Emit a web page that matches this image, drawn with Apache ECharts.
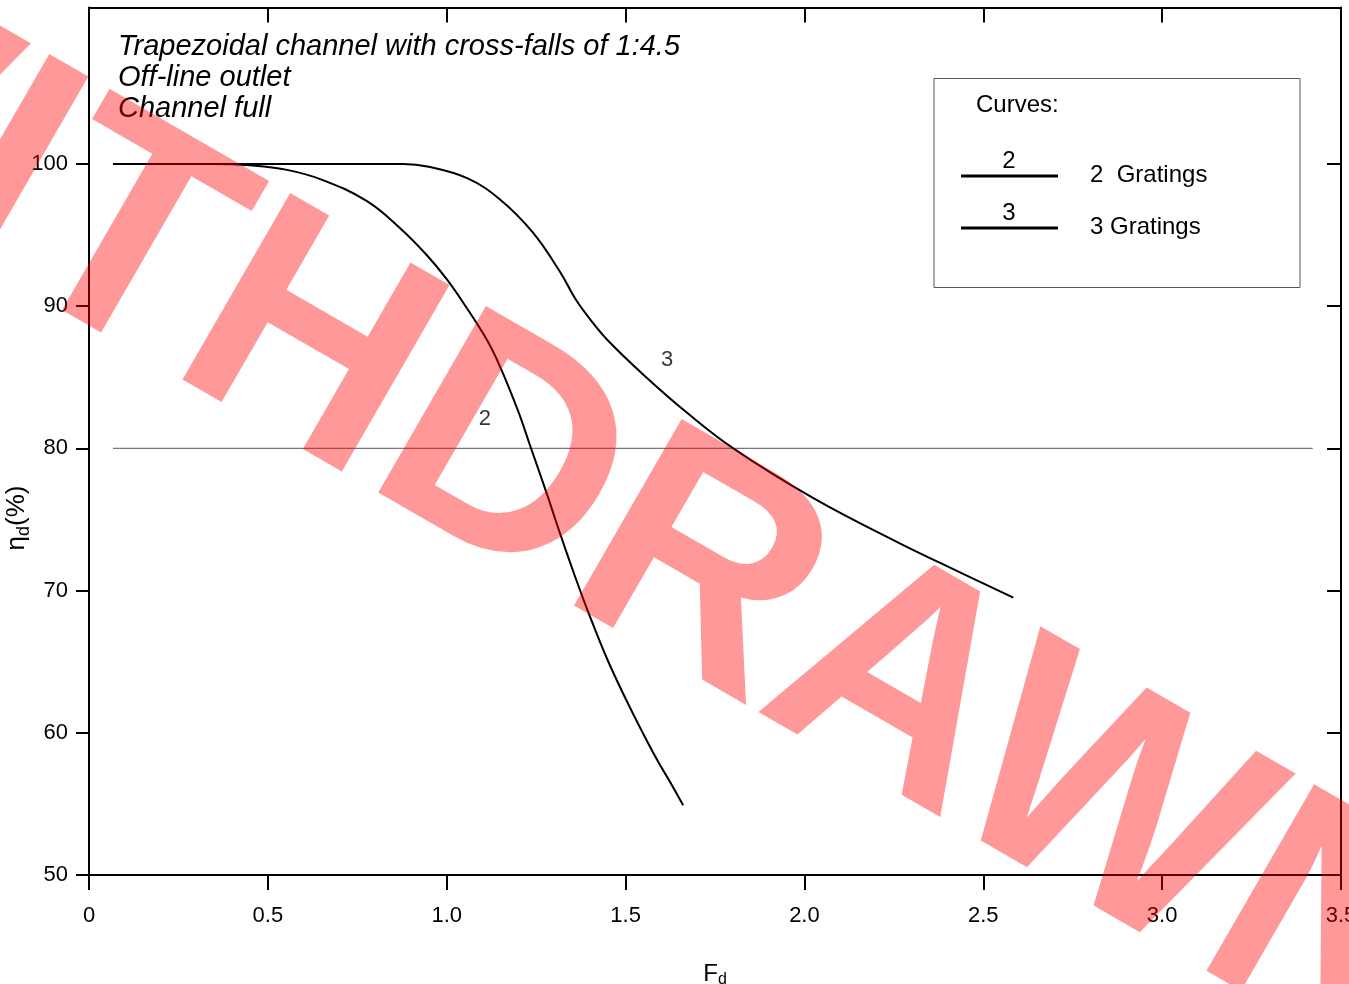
<!DOCTYPE html>
<html><head><meta charset="utf-8">
<script src="https://cdn.jsdelivr.net/npm/echarts@6/dist/echarts.min.js"></script>
<style>html,body{margin:0;padding:0;background:#fff}#c{width:1349px;height:984px}</style>
</head><body><div id="c"></div>
<script>
// ---- data ----
const curve2 = [[0.067,100],[0.2,100],[0.35,100],[0.45,99.9],[0.55,99.6],[0.65,98.9],[0.776,97.4],[0.869,95.5],[0.944,93.6],[1.0,91.9],[1.05,90.1],[1.113,87.6],[1.15,85.7],[1.2,82.6],[1.233,80.2],[1.28,76.8],[1.317,74.0],[1.36,70.9],[1.40,68.2],[1.45,65.1],[1.504,62.2],[1.55,59.9],[1.588,58.1],[1.63,56.3],[1.661,54.9]];
const curve3 = [[0.067,100],[0.5,100],[0.878,100],[0.95,99.8],[1.057,99.0],[1.149,97.5],[1.24,95.2],[1.317,92.4],[1.36,90.5],[1.40,89.1],[1.45,87.6],[1.549,85.2],[1.672,82.5],[1.801,80.0],[2.025,76.5],[2.268,73.3],[2.4,71.7],[2.584,69.5]];
const refLine = [[0.067,80],[3.421,80]];
const curveLabels = [{name:'2', value:[1.107,82.1]},{name:'3', value:[1.616,86.2]}];
const xTicks = [0,0.5,1,1.5,2,2.5,3,3.5];
const yTicks = [50,60,70,80,90,100];
const annotationLines = ['Trapezoidal channel with cross-falls of 1:4.5','Off-line outlet','Channel full'];
const legendTitle = 'Curves:';
const legendItems = [{key:'2', label:'2  Gratings'},{key:'3', label:'3 Gratings'}];
const watermark = 'WITHDRAWN';

// ---- chart ----
const FONT = '"Liberation Sans", Arial, Helvetica, sans-serif';
const chart = echarts.init(document.getElementById('c'), null, {renderer:'canvas'});
const axisLine = {show:true, onZero:false, lineStyle:{color:'#000', width:2}};
const tickStyle = {color:'#000', width:2};

const graphics = [];
annotationLines.forEach((t,i)=>{
  graphics.push({type:'text', x:118, y:47+i*31, z:50, style:{text:t, font:'italic 29px '+FONT, fill:'#000', align:'left', verticalAlign:'middle'}});
});
graphics.push({type:'rect', shape:{x:934, y:78.5, width:366, height:209}, z:50, style:{fill:'#fff', stroke:'#555', lineWidth:1}});
graphics.push({type:'text', x:976, y:105, z:51, style:{text:legendTitle, font:'24px '+FONT, fill:'#000', align:'left', verticalAlign:'middle'}});
legendItems.forEach((it,i)=>{
  const y = 176 + i*52;
  graphics.push({type:'line', z:51, shape:{x1:961, y1:y, x2:1058, y2:y}, style:{stroke:'#000', lineWidth:3}});
  graphics.push({type:'text', x:1009, y:y-15, z:51, style:{text:it.key, font:'24px '+FONT, fill:'#000', align:'center', verticalAlign:'middle'}});
  graphics.push({type:'text', x:1090, y:y-1, z:51, style:{text:it.label, font:'24px '+FONT, fill:'#000', align:'left', verticalAlign:'middle'}});
});
graphics.push({type:'text', x:17, y:518, rotation:Math.PI/2, z:50, style:{
  text:'{a|η}{s|d}{a|(%)}', align:'center', verticalAlign:'middle',
  rich:{a:{fontSize:26, fontFamily:FONT, fill:'#000', lineHeight:30}, s:{fontSize:18, fontFamily:FONT, fill:'#000', padding:[14,0,0,0], lineHeight:30}}
}});
graphics.push({type:'text', x:569, y:503, rotation:-Math.PI/6, z:100, style:{
  text:watermark, font:'bold 313px '+FONT, fill:'rgba(255,0,0,0.4)', align:'center', verticalAlign:'middle'
}});

chart.setOption({
  animation:false,
  backgroundColor:'#fff',
  grid:{left:89, top:7.5, right:8, bottom:109, containLabel:false, outerBoundsMode:'none'},
  xAxis:[{
    type:'value', min:0, max:3.5, interval:0.5, position:'bottom',
    axisLine:axisLine, splitLine:{show:false},
    axisTick:{show:true, inside:false, length:15, lineStyle:tickStyle, customValues:xTicks},
    axisLabel:{show:true, margin:30, fontSize:22, fontFamily:FONT, color:'#000', customValues:xTicks,
      formatter:v=> v===0 ? '0' : Number(v).toFixed(1)},
    name:'{f|F}{s|d}', nameLocation:'middle', nameGap:86,
    nameTextStyle:{rich:{f:{fontSize:24, fontFamily:FONT, color:'#000', lineHeight:26}, s:{fontSize:16, fontFamily:FONT, color:'#000', padding:[12,0,0,0], lineHeight:26}}}
  },{
    type:'value', min:0, max:3.5, interval:0.5, position:'top',
    axisLine:axisLine, splitLine:{show:false},
    axisTick:{show:true, inside:true, length:15, lineStyle:tickStyle, customValues:xTicks},
    axisLabel:{show:false}
  }],
  yAxis:[{
    type:'value', min:50, max:111, interval:10, position:'left',
    axisLine:axisLine, splitLine:{show:false},
    axisTick:{show:true, inside:false, length:13, lineStyle:tickStyle, customValues:yTicks},
    axisLabel:{show:true, margin:21, fontSize:22, fontFamily:FONT, color:'#000', customValues:yTicks}
  },{
    type:'value', min:50, max:111, interval:10, position:'right',
    axisLine:axisLine, splitLine:{show:false},
    axisTick:{show:true, inside:true, length:14, lineStyle:tickStyle, customValues:yTicks},
    axisLabel:{show:false}
  }],
  graphic:graphics,
  series:[
    {type:'line', name:'ref80', data:refLine, symbol:'none', lineStyle:{color:'#777', width:1.2}, z:2, silent:true},
    {type:'line', name:'2 Gratings', data:curve2, symbol:'none', smooth:0.4, lineStyle:{color:'#000', width:2}, z:3},
    {type:'line', name:'3 Gratings', data:curve3, symbol:'none', smooth:0.4, lineStyle:{color:'#000', width:2}, z:3},
    {type:'scatter', data:curveLabels, symbolSize:0, z:4,
      label:{show:true, position:'inside', formatter:p=>p.name, fontSize:22, fontFamily:FONT, color:'#000'}}
  ]
});
</script>
</body></html>
